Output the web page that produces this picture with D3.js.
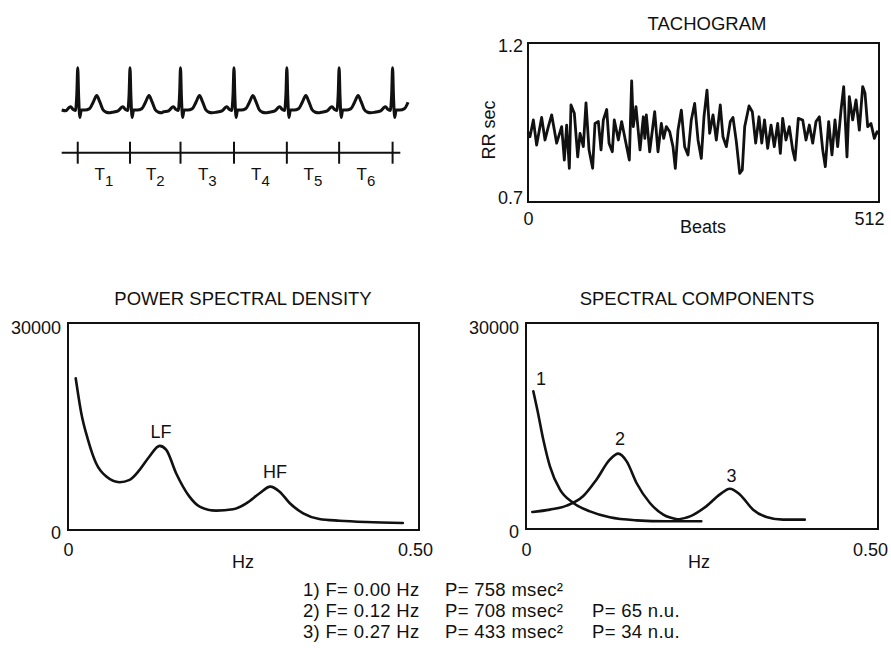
<!DOCTYPE html>
<html>
<head>
<meta charset="utf-8">
<script src="https://cdn.jsdelivr.net/npm/d3@7"></script>
<style>
  body { margin: 0; background: #fff; }
  svg text { font-family: "Liberation Sans", Arial, Helvetica, sans-serif; fill: #111; }
</style>
</head>
<body>
<script>
// ECG strip: R-peak times (s) and one beat shape (offset s, mV)
const ecgBeatTimes = [0.27, 1.15, 2.00, 2.90, 3.79, 4.67, 5.57];
const ecgBeatShape = [
  [-0.30, -0.08], [-0.20, -0.03], [-0.15, 0.08], [-0.12, 0.12], [-0.08, 0.02],
  [-0.04, -0.02], [-0.015, 0.6], [0, 1.52], [0.015, 0.5], [0.035, -0.27],
  [0.06, 0.0], [0.12, 0.0], [0.2, 0.05], [0.26, 0.28], [0.32, 0.52],
  [0.37, 0.3], [0.42, 0.03], [0.48, -0.08], [0.53, -0.1]
];
const ecgLabels = ["1", "2", "3", "4", "5", "6"];

// tachogram [beat, RR sec]
const tachoPoints = [
  [0, 0.92], [2.9, 0.905], [7.8, 0.958], [12.6, 0.879], [19.9, 0.966], [24.8, 0.895],
  [29.7, 0.937], [34.5, 0.974], [41.8, 0.885], [49.1, 0.937], [53.0, 0.832], [56.4, 0.942],
  [60.3, 0.806], [62.7, 1.005], [67.6, 0.979], [72.5, 0.842], [75.9, 0.916], [80.7, 0.874],
  [84.6, 1.012], [89.0, 0.864], [94.3, 0.806], [97.7, 0.947], [102.6, 0.953], [106.5, 0.864],
  [109.9, 0.958], [114.8, 0.991], [118.2, 0.885], [123.0, 0.858], [125.9, 0.958], [131.8, 0.895],
  [136.6, 0.953], [141.5, 0.900], [147.8, 0.832], [151.2, 1.081], [153.6, 0.937], [157.5, 1.000],
  [163.4, 0.864], [168.2, 0.968], [170.4, 0.900], [172.6, 0.974], [177.5, 0.858], [184.8, 0.984],
  [189.6, 0.858], [194.5, 0.947], [197.9, 0.900], [201.8, 0.937], [206.7, 0.921], [211.5, 0.874],
  [214.9, 0.806], [218.8, 0.926], [223.7, 0.989], [228.5, 0.874], [233.4, 0.848], [238.2, 0.958],
  [243.1, 1.010], [248.0, 0.895], [252.8, 0.837], [256.7, 0.968], [261.1, 1.052], [265.0, 0.916],
  [269.9, 0.974], [274.7, 0.895], [280.5, 1.005], [284.4, 0.905], [289.3, 0.874], [295.1, 0.953],
  [299.0, 0.966], [303.9, 0.890], [308.8, 0.790], [312.6, 0.801], [316.1, 0.937], [322.4, 1.002],
  [327.2, 0.984], [332.1, 0.885], [337.0, 0.968], [341.0, 0.885], [345.0, 0.958], [349.6, 0.869],
  [354.5, 0.942], [359.3, 0.874], [364.2, 0.947], [368.1, 0.853], [371.5, 0.963], [376.3, 0.895],
  [381.2, 0.937], [386.1, 0.864], [389.5, 0.832], [394.3, 0.963], [400.7, 0.958], [405.5, 0.895],
  [410.4, 0.942], [415.3, 0.885], [420.1, 0.953], [425.0, 0.968], [429.9, 0.864], [433.7, 0.811],
  [438.6, 0.953], [443.4, 0.848], [447.8, 0.958], [451.7, 0.874], [456.6, 0.989], [460.5, 1.063],
  [465.3, 0.842], [468.7, 1.031], [473.6, 0.958], [478.5, 1.021], [483.3, 0.926], [488.2, 1.063],
  [491.6, 1.042], [495.5, 0.937], [500.3, 0.947], [505.2, 0.900], [509.1, 0.921], [512, 0.915]
];

// power spectral density
const psdFreq = [0.011, 0.019, 0.0285, 0.040, 0.0546, 0.0736, 0.0878, 0.102, 0.116, 0.1306,
  0.140, 0.154, 0.173, 0.1876, 0.211, 0.235, 0.254, 0.273, 0.288, 0.3015, 0.316, 0.335,
  0.358, 0.387, 0.425, 0.477];
const psdPower = [22000, 16900, 13070, 9680, 7740, 6920, 7260, 8710, 10650, 12190,
  11610, 8230, 4840, 3390, 2810, 3000, 3870, 5320, 6290, 5560, 3870, 2420,
  1600, 1350, 1160, 1020];
const psdPeaks = [["LF", 0.1325, 13290], ["HF", 0.295, 7490]];

// spectral components
const comp1 = [[0.0104, 20050], [0.0161, 17380], [0.0246, 13010], [0.034, 9130], [0.0483, 5730],
  [0.0672, 3790], [0.0908, 2570], [0.119, 1700], [0.157, 1260], [0.1996, 1120], [0.249, 1120]];
const comp2 = [[0.009, 2480], [0.034, 2820], [0.0577, 3400], [0.081, 4760], [0.100, 7180],
  [0.119, 10100], [0.131, 10970], [0.143, 9850], [0.157, 6700], [0.176, 3790], [0.195, 2090],
  [0.2185, 1360]];
const comp3 = [[0.214, 1360], [0.233, 1840], [0.256, 3300], [0.275, 5000], [0.2895, 5870],
  [0.304, 5000], [0.3226, 2820], [0.3415, 1750], [0.365, 1360], [0.396, 1360]];
const compLabels = [["1", 0.0213, 20970], ["2", 0.1335, 12230], ["3", 0.292, 6890]];

// summary table
const compF = [0.00, 0.12, 0.27];
const compP = [758, 708, 433];
const compNU = [null, 65, 34];

const svg = d3.select("body").append("svg")
  .attr("width", 891)
  .attr("height", 648);

// ---------- ECG ----------
let ecgX = d3.scaleLinear().domain([0, 5.9]).range([61.7, 412.2]);
let ecgY = d3.scaleLinear().domain([-0.5, 1.5]).range([123.9, 68.3]);

let ecgData = [];
ecgBeatTimes.forEach(function(t) {
  ecgBeatShape.forEach(function(p) {
    let tt = t + p[0];
    if (tt >= 0 && tt <= 5.89) ecgData.push([tt, p[1]]);
  });
});
ecgData.unshift([0, 0]);

svg.append("path")
  .datum(ecgData)
  .attr("fill", "none")
  .attr("stroke", "#111")
  .attr("stroke-width", 3)
  .attr("stroke-linejoin", "round")
  .attr("d", d3.line().curve(d3.curveMonotoneX)
    .x(function(d) { return ecgX(d[0]); })
    .y(function(d) { return ecgY(d[1]); }));

let ecgAxis = svg.append("g").attr("transform", "translate(0,152.7)");
ecgAxis.append("line")
  .attr("x1", ecgX(0)).attr("x2", ecgX(5.70))
  .attr("stroke", "#111").attr("stroke-width", 2);
ecgAxis.selectAll(".rtick")
  .data(ecgBeatTimes)
  .enter().append("line")
  .attr("x1", function(d) { return ecgX(d); })
  .attr("x2", function(d) { return ecgX(d); })
  .attr("y1", -11).attr("y2", 11)
  .attr("stroke", "#111").attr("stroke-width", 2);

let tLab = svg.selectAll(".tlab")
  .data(ecgLabels)
  .enter().append("text")
  .attr("x", function(d, i) { return ecgX((ecgBeatTimes[i] + ecgBeatTimes[i + 1]) / 2); })
  .attr("y", 180)
  .attr("text-anchor", "middle")
  .style("font-size", "17px");
tLab.append("tspan").text("T");
tLab.append("tspan").attr("dy", 6).style("font-size", "15px").text(function(d) { return d; });

// ---------- TACHOGRAM ----------
let tx = d3.scaleLinear().domain([0, 512]).range([528, 879]);
let ty = d3.scaleLinear().domain([0.7, 1.2]).range([202, 43]);

svg.append("rect")
  .attr("x", tx(0)).attr("y", ty(1.2))
  .attr("width", tx(512) - tx(0)).attr("height", ty(0.7) - ty(1.2))
  .attr("fill", "none").attr("stroke", "#111").attr("stroke-width", 2);

svg.append("path")
  .datum(tachoPoints)
  .attr("fill", "none")
  .attr("stroke", "#111")
  .attr("stroke-width", 2.8)
  .attr("stroke-linejoin", "round")
  .attr("d", d3.line()
    .x(function(d) { return tx(d[0]); })
    .y(function(d) { return ty(d[1]); }));

let tyAxis = svg.append("g")
  .attr("transform", "translate(" + tx(0) + ",0)")
  .call(d3.axisLeft(ty).tickValues([0.7, 1.2]).tickSize(0).tickPadding(5).tickFormat(d3.format(".1f")));
tyAxis.select(".domain").remove();
tyAxis.selectAll("text").style("font-size", "18px").attr("dy", function(d) { return d > 1 ? 8.4 : 1.9; });

let txAxis = svg.append("g")
  .attr("transform", "translate(0," + ty(0.7) + ")")
  .call(d3.axisBottom(tx).tickValues([0, 512]).tickSize(0).tickPadding(10));
txAxis.select(".domain").remove();
txAxis.selectAll("text").style("font-size", "18px").attr("dx", function(d) { return d > 0 ? -10 : 0; });

svg.append("text").attr("x", 707).attr("y", 30).attr("text-anchor", "middle")
  .style("font-size", "18.5px").text("TACHOGRAM");
svg.append("text").attr("x", 703).attr("y", 233).attr("text-anchor", "middle")
  .style("font-size", "18px").text("Beats");
svg.append("text").attr("transform", "translate(495,130) rotate(-90)").attr("text-anchor", "middle")
  .style("font-size", "18px").text("RR sec");

// ---------- spectrum panels ----------
function spectrumPanel(left, right, bottom, title, titleX, hzX, xPad, lastDx) {
  let x = d3.scaleLinear().domain([0, 0.5]).range([left, right]);
  let y = d3.scaleLinear().domain([0, 30000]).range([bottom, 323]);

  svg.append("rect")
    .attr("x", x(0)).attr("y", y(30000))
    .attr("width", x(0.5) - x(0)).attr("height", y(0) - y(30000))
    .attr("fill", "none").attr("stroke", "#111").attr("stroke-width", 2);

  let yAxis = svg.append("g")
    .attr("transform", "translate(" + (x(0) - 1) + ",0)")
    .call(d3.axisLeft(y).tickValues([0, 30000]).tickSize(0).tickPadding(6).tickFormat(d3.format("d")));
  yAxis.select(".domain").remove();
  yAxis.selectAll("text").style("font-size", "18px").attr("dy", function(d) { return d > 0 ? 10.9 : 8.7; });

  let xAxis = svg.append("g")
    .attr("transform", "translate(0," + y(0) + ")")
    .call(d3.axisBottom(x).tickValues([0, 0.5]).tickSize(0).tickPadding(xPad)
      .tickFormat(function(d) { return d === 0 ? "0" : d.toFixed(2); }));
  xAxis.select(".domain").remove();
  xAxis.selectAll("text").style("font-size", "18px").attr("dx", function(d) { return d > 0 ? lastDx : 0; });

  svg.append("text").attr("x", titleX).attr("y", 305).attr("text-anchor", "middle")
    .style("font-size", "18.5px").text(title);
  svg.append("text").attr("x", hzX).attr("y", 568).attr("text-anchor", "middle")
    .style("font-size", "18px").text("Hz");

  return { x: x, y: y };
}

function drawCurve(sc, pts) {
  svg.append("path")
    .datum(pts)
    .attr("fill", "none")
    .attr("stroke", "#111")
    .attr("stroke-width", 2.6)
    .attr("stroke-linejoin", "round")
    .attr("stroke-linecap", "round")
    .attr("d", d3.line().curve(d3.curveMonotoneX)
      .x(function(d) { return sc.x(d[0]); })
      .y(function(d) { return sc.y(d[1]); }));
}

function peakLabels(sc, labels) {
  svg.selectAll(null)
    .data(labels)
    .enter().append("text")
    .attr("x", function(d) { return sc.x(d[1]); })
    .attr("y", function(d) { return sc.y(d[2]); })
    .attr("text-anchor", "middle")
    .style("font-size", "18px")
    .text(function(d) { return d[0]; });
}

let psd = spectrumPanel(68, 419, 530, "POWER SPECTRAL DENSITY", 243, 243, 13, -4);
drawCurve(psd, psdFreq.map(function(f, i) { return [f, psdPower[i]]; }));
peakLabels(psd, psdPeaks);

let comp = spectrumPanel(526, 878, 529, "SPECTRAL COMPONENTS", 697, 699, 14, -8);
drawCurve(comp, comp1);
drawCurve(comp, comp2);
drawCurve(comp, comp3);
peakLabels(comp, compLabels);

// ---------- summary lines ----------
let rowY = [595.5, 616.5, 638];
compF.forEach(function(f, i) {
  svg.append("text").attr("x", 303).attr("y", rowY[i])
    .style("font-size", "18.5px").style("letter-spacing", "0.3px")
    .text((i + 1) + ") F= " + f.toFixed(2) + " Hz");
  svg.append("text").attr("x", 445).attr("y", rowY[i])
    .style("font-size", "18.5px").style("letter-spacing", "0.3px")
    .text("P= " + compP[i] + " msec\u00B2");
  if (compNU[i] !== null) {
    svg.append("text").attr("x", 592).attr("y", rowY[i])
      .style("font-size", "18.5px").style("letter-spacing", "0.3px")
      .text("P= " + compNU[i] + " n.u.");
  }
});
</script>
</body>
</html>
